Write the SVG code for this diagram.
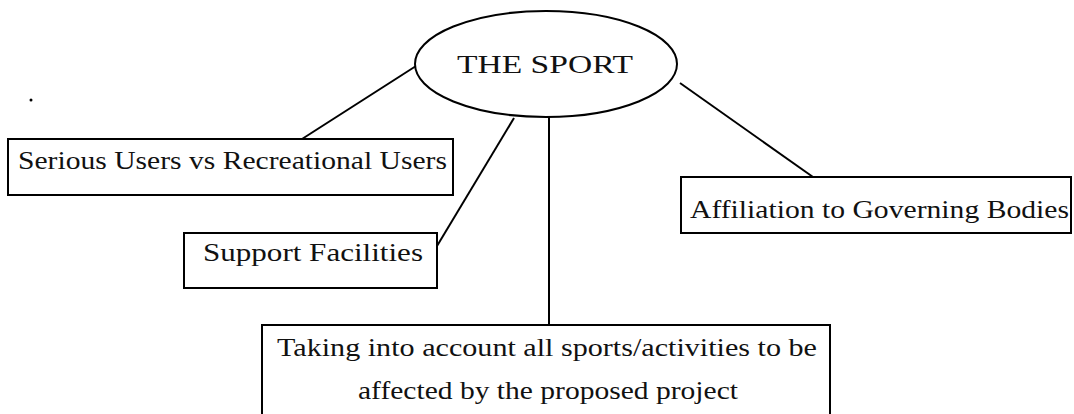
<svg xmlns="http://www.w3.org/2000/svg" width="1074" height="414" viewBox="0 0 1074 414">
<style>
.box{fill:#fff;stroke:#000;stroke-width:2}
.edge{stroke:#000;stroke-width:2;fill:none}
.t{font-family:"Liberation Serif","DejaVu Serif",serif;font-size:26px;fill:#111}
</style>
<rect width="1074" height="414" fill="#fff"/>
<g id="connectors">
<line class="edge" x1="302" y1="139" x2="416" y2="66"/>
<line class="edge" x1="437" y1="246" x2="514" y2="118"/>
<line class="edge" x1="549" y1="117" x2="549" y2="325"/>
<line class="edge" x1="680" y1="83" x2="813" y2="177"/>
</g>
<circle cx="31" cy="100" r="1.5" fill="#000"/>
<g id="sport">
<ellipse class="box" cx="546" cy="64" rx="131" ry="53"/>
<text class="t" x="545" y="73" text-anchor="middle" font-size="33" textLength="176" lengthAdjust="spacingAndGlyphs">THE SPORT</text>
</g>
<g id="serious">
<rect class="box" x="8" y="139" width="445" height="56"/>
<text class="t" x="18" y="169" textLength="429" lengthAdjust="spacingAndGlyphs">Serious Users vs Recreational Users</text>
</g>
<g id="support">
<rect class="box" x="184" y="233" width="253" height="55"/>
<text class="t" x="203" y="261" textLength="220" lengthAdjust="spacingAndGlyphs">Support  Facilities</text>
</g>
<g id="affiliation">
<rect class="box" x="681" y="177" width="390" height="56"/>
<text class="t" x="690" y="218" textLength="379" lengthAdjust="spacingAndGlyphs">Affiliation to Governing Bodies</text>
</g>
<g id="taking">
<rect class="box" x="262" y="325" width="568" height="100"/>
<text class="t" x="277" y="356" textLength="540" lengthAdjust="spacingAndGlyphs">Taking into account all sports/activities to be</text>
<text class="t" x="358" y="399" textLength="380" lengthAdjust="spacingAndGlyphs">affected by the proposed project</text>
</g>
</svg>
